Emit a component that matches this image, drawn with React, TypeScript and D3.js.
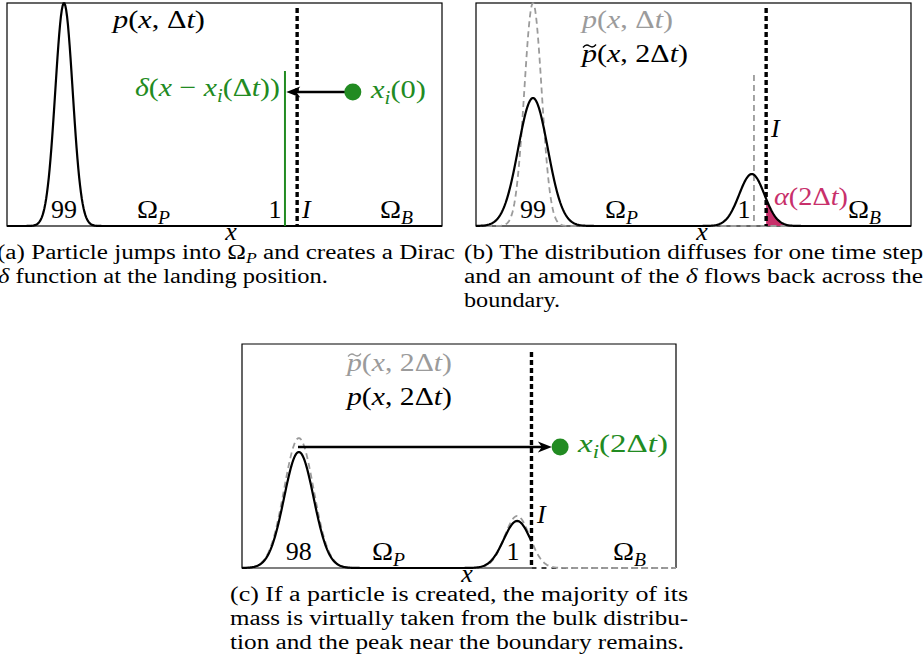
import * as d3 from 'd3';

// ---- data (x as a fraction of the panel width, y as a fraction of its height) ----
const bulkCenter = 0.131;   // bulk peak position
const edgeCenter = 0.634;   // small peak near the boundary
const interfaceX = 0.667;   // boundary I
const deltaX = 0.639;       // landing position x_i(Δt)

// (a) p(x, Δt): [height, width]
const aBulk = [1.0, 0.02];
const aDeltaTop = 0.695;
const aJump = [0.795, 0.601];   // x_i(0): x, y
const aArrowTip = 0.642;

// (b) p(x, Δt) (grey) and p~(x, 2Δt)
const bOldBulk = [1.0, 0.02];
const bOldDeltaTop = 0.677;
const bBulk = [0.574, 0.034];
const bEdge = [0.233, 0.029];

// (c) p~(x, 2Δt) (grey) and p(x, 2Δt)
const cOldBulk = [0.58, 0.034];
const cOldEdge = [0.232, 0.029];
const cBulk = [0.518, 0.034];
const cEdge = [0.21, 0.031];
const cJumpFrom = 0.129;
const cJump = [0.733, 0.54];    // x_i(2Δt): x, y
const cArrowTip = 0.714;

const massA = ['99', '1'];
const massB = ['99', '1'];
const massC = ['98', '1'];

const FONT = '"Liberation Serif", "Times New Roman", Times, serif';
const GREEN = '#228b22';
const MAGENTA = '#c8306b';
const GRAY = '#9b9b9b';
const LBL = 26;
const STRETCH = 'spacingAndGlyphs';

const gauss = (x: number, c: number, p: number[]) =>
  p[0] * Math.exp(-((x - c) ** 2) / (2 * p[1] * p[1]));
const grid = d3.range(0, 1.0001, 0.002);

const mk = (x0: number, x1: number, y0: number, y1: number) => ({
  x: d3.scaleLinear().domain([0, 1]).range([x0, x1]),
  y: d3.scaleLinear().domain([0, 1]).range([y1, y0]),
});

const A = mk(7, 442, 3, 226);
const B = mk(476, 911, 3, 226);
const C = mk(242, 676, 344, 568);

const curve = (s: any, f: (x: number) => number, xs = grid) =>
  d3.line<number>().x(d => s.x(d)).y(d => s.y(f(d)))(xs) as string;

const Tilde = ({ x, y }: { x: number; y: number }) => (
  <path d={`M${x} ${y + 1.5} Q${x + 3} ${y - 2.5} ${x + 6.5} ${y} T${x + 13} ${y - 1.5}`}
    fill="none" stroke="currentColor" strokeWidth={1.3} />
);

const Omega = ({ x, y, sub }: { x: number; y: number; sub: string }) => (
  <text x={x} y={y} textLength={33} lengthAdjust={STRETCH}>Ω<tspan fontSize={18} dy={6} fontStyle="italic">{sub}</tspan></text>
);

const Iface = ({ s, top }: { s: any; top: number }) => (
  <line x1={s.x(interfaceX)} x2={s.x(interfaceX)} y1={top} y2={s.y(0)}
    stroke="#000" strokeWidth={3.4} strokeDasharray="5 3" />
);

const Frame = ({ s }: { s: any }) => (
  <rect x={s.x(0)} y={s.y(1)} width={s.x(1) - s.x(0)} height={s.y(0) - s.y(1)}
    fill="none" stroke="#000" strokeWidth={1.2} />
);

export default function App() {
  // (a)
  const aCurve = curve(A, x => gauss(x, bulkCenter, aBulk));
  const aY = A.y(aJump[1]);

  // (b)
  const bOld = curve(B, x => gauss(x, bulkCenter, bOldBulk));
  const bNewF = (x: number) => gauss(x, bulkCenter, bBulk) + gauss(x, edgeCenter, bEdge);
  const bNew = curve(B, bNewF);
  const bLeak = d3.area<number>().x(d => B.x(d)).y0(B.y(0)).y1(d => B.y(bNewF(d)))(
    [interfaceX, ...grid.filter(x => x > interfaceX)]) as string;

  // (c)
  const cOldF = (x: number) => gauss(x, bulkCenter, cOldBulk) + gauss(x, edgeCenter, cOldEdge);
  const cOld = curve(C, cOldF);
  const cNew = curve(C, x => gauss(x, bulkCenter, cBulk) + gauss(x, edgeCenter, cEdge),
    [...grid.filter(x => x < interfaceX), interfaceX]);
  const cY = C.y(cJump[1]);

  return (
    <svg width={924} height={661}
      style={{ position: 'absolute', left: 0, top: 0, fontFamily: FONT, fontSize: LBL }}>
      {/* ---------- (a) ---------- */}
      <Frame s={A} />
      <path d={aCurve} fill="none" stroke="#000" strokeWidth={2.2} />
      <line x1={A.x(deltaX)} x2={A.x(deltaX)} y1={A.y(aDeltaTop)} y2={A.y(0)} stroke={GREEN} strokeWidth={2} />
      <Iface s={A} top={8} />
      <line x1={A.x(aJump[0])} x2={A.x(aArrowTip) + 8} y1={aY} y2={aY} stroke="#000" strokeWidth={2.6} />
      <path d={`M${A.x(aArrowTip)} ${aY} L${A.x(aArrowTip) + 14} ${aY - 5.5} L${A.x(aArrowTip) + 10} ${aY} L${A.x(aArrowTip) + 14} ${aY + 5.5} Z`} fill="#000" />
      <circle cx={A.x(aJump[0])} cy={aY} r={8.5} fill={GREEN} />
      <text x={113} y={28} textLength={92} lengthAdjust={STRETCH}><tspan fontStyle="italic">p</tspan>(<tspan fontStyle="italic">x</tspan>, Δ<tspan fontStyle="italic">t</tspan>)</text>
      <text x={135} y={96} fill={GREEN} textLength={145} lengthAdjust={STRETCH}>
        <tspan fontStyle="italic">δ</tspan>(<tspan fontStyle="italic">x</tspan> − <tspan fontStyle="italic">x</tspan><tspan fontSize={18} dy={6} fontStyle="italic">i</tspan><tspan dy={-6}>(Δ</tspan><tspan fontStyle="italic">t</tspan>))
      </text>
      <text x={371} y={98} fill={GREEN} textLength={55} lengthAdjust={STRETCH}>
        <tspan fontStyle="italic">x</tspan><tspan fontSize={18} dy={6} fontStyle="italic">i</tspan><tspan dy={-6}>(0)</tspan>
      </text>
      <text x={A.x(bulkCenter)} y={218} textAnchor="middle">{massA[0]}</text>
      <Omega x={137} y={218} sub="P" />
      <text x={275} y={218} textAnchor="middle">{massA[1]}</text>
      <text x={302} y={218} fontStyle="italic">I</text>
      <Omega x={380} y={218} sub="B" />
      <text x={231} y={240} textAnchor="middle" fontStyle="italic">x</text>

      {/* ---------- (b) ---------- */}
      <Frame s={B} />
      <path d={bLeak} fill={MAGENTA} />
      <path d={bOld} fill="none" stroke={GRAY} strokeWidth={1.8} strokeDasharray="6 4" />
      <line x1={B.x(deltaX)} x2={B.x(deltaX)} y1={B.y(bOldDeltaTop)} y2={B.y(0)} stroke={GRAY} strokeWidth={1.8} strokeDasharray="6 4" />
      <path d={bNew} fill="none" stroke="#000" strokeWidth={2.2} />
      <Iface s={B} top={8} />
      <text x={582} y={28} fill={GRAY} textLength={91} lengthAdjust={STRETCH}><tspan fontStyle="italic">p</tspan>(<tspan fontStyle="italic">x</tspan>, Δ<tspan fontStyle="italic">t</tspan>)</text>
      <g color="#000"><Tilde x={583} y={46} /></g>
      <text x={582} y={62} textLength={106} lengthAdjust={STRETCH}><tspan fontStyle="italic">p</tspan>(<tspan fontStyle="italic">x</tspan>, 2Δ<tspan fontStyle="italic">t</tspan>)</text>
      <text x={771} y={137} fontStyle="italic">I</text>
      <text x={B.x(bulkCenter)} y={218} textAnchor="middle">{massB[0]}</text>
      <Omega x={605} y={218} sub="P" />
      <text x={744} y={218} textAnchor="middle">{massB[1]}</text>
      <text x={774} y={205} fill={MAGENTA} textLength={74} lengthAdjust={STRETCH}><tspan fontStyle="italic">α</tspan>(2Δ<tspan fontStyle="italic">t</tspan>)</text>
      <Omega x={848} y={218} sub="B" />
      <text x={702} y={240} textAnchor="middle" fontStyle="italic">x</text>

      {/* ---------- (c) ---------- */}
      <path d={`M${C.x(interfaceX)} ${C.y(0)} H${C.x(0)} V${C.y(1)} H${C.x(1)} V${C.y(0)}`} fill="none" stroke="#000" strokeWidth={1.2} />
      <line x1={C.x(interfaceX)} x2={C.x(1)} y1={C.y(0)} y2={C.y(0)} stroke="#000" strokeWidth={1.6} strokeDasharray="5 5" />
      <path d={cOld} fill="none" stroke={GRAY} strokeWidth={1.8} strokeDasharray="6 4" />
      <path d={cNew} fill="none" stroke="#000" strokeWidth={2.2} />
      <Iface s={C} top={352} />
      <line x1={C.x(cJumpFrom)} x2={C.x(cArrowTip) - 8} y1={cY} y2={cY} stroke="#000" strokeWidth={2.6} />
      <path d={`M${C.x(cArrowTip)} ${cY} L${C.x(cArrowTip) - 14} ${cY - 5.5} L${C.x(cArrowTip) - 10} ${cY} L${C.x(cArrowTip) - 14} ${cY + 5.5} Z`} fill="#000" />
      <circle cx={C.x(cJump[0])} cy={cY} r={8.5} fill={GREEN} />
      <g color={GRAY}><Tilde x={348} y={355} /></g>
      <text x={347} y={371} fill={GRAY} textLength={105} lengthAdjust={STRETCH}><tspan fontStyle="italic">p</tspan>(<tspan fontStyle="italic">x</tspan>, 2Δ<tspan fontStyle="italic">t</tspan>)</text>
      <text x={347} y={405} textLength={105} lengthAdjust={STRETCH}><tspan fontStyle="italic">p</tspan>(<tspan fontStyle="italic">x</tspan>, 2Δ<tspan fontStyle="italic">t</tspan>)</text>
      <text x={578} y={452} fill={GREEN} textLength={90} lengthAdjust={STRETCH}>
        <tspan fontStyle="italic">x</tspan><tspan fontSize={18} dy={6} fontStyle="italic">i</tspan><tspan dy={-6}>(2Δ</tspan><tspan fontStyle="italic">t</tspan>)
      </text>
      <text x={537} y={523} fontStyle="italic">I</text>
      <text x={C.x(bulkCenter)} y={560} textAnchor="middle">{massC[0]}</text>
      <Omega x={372} y={560} sub="P" />
      <text x={513} y={560} textAnchor="middle">{massC[1]}</text>
      <Omega x={613} y={560} sub="B" />
      <text x={467} y={582} textAnchor="middle" fontStyle="italic">x</text>

      {/* ---------- captions ---------- */}
      <g style={{ fontSize: 20 }}>
        <text x={-3} y={259} textLength={458} lengthAdjust={STRETCH}>(a) Particle jumps into Ω<tspan fontSize={14} dy={4} fontStyle="italic">P</tspan><tspan dy={-4}> and creates a Dirac</tspan></text>
        <text x={-2} y={283} textLength={330} lengthAdjust={STRETCH}><tspan fontStyle="italic">δ</tspan> function at the landing position.</text>
        <text x={464} y={259} textLength={459} lengthAdjust={STRETCH}>(b) The distribution diffuses for one time step</text>
        <text x={464} y={283} textLength={459} lengthAdjust={STRETCH}>and an amount of the <tspan fontStyle="italic">δ</tspan> flows back across the</text>
        <text x={464} y={307} textLength={96} lengthAdjust={STRETCH}>boundary.</text>
        <text x={230} y={601} textLength={458} lengthAdjust={STRETCH}>(c) If a particle is created, the majority of its</text>
        <text x={230} y={625} textLength={458} lengthAdjust={STRETCH}>mass is virtually taken from the bulk distribu-</text>
        <text x={230} y={649} textLength={454} lengthAdjust={STRETCH}>tion and the peak near the boundary remains.</text>
      </g>
    </svg>
  );
}
